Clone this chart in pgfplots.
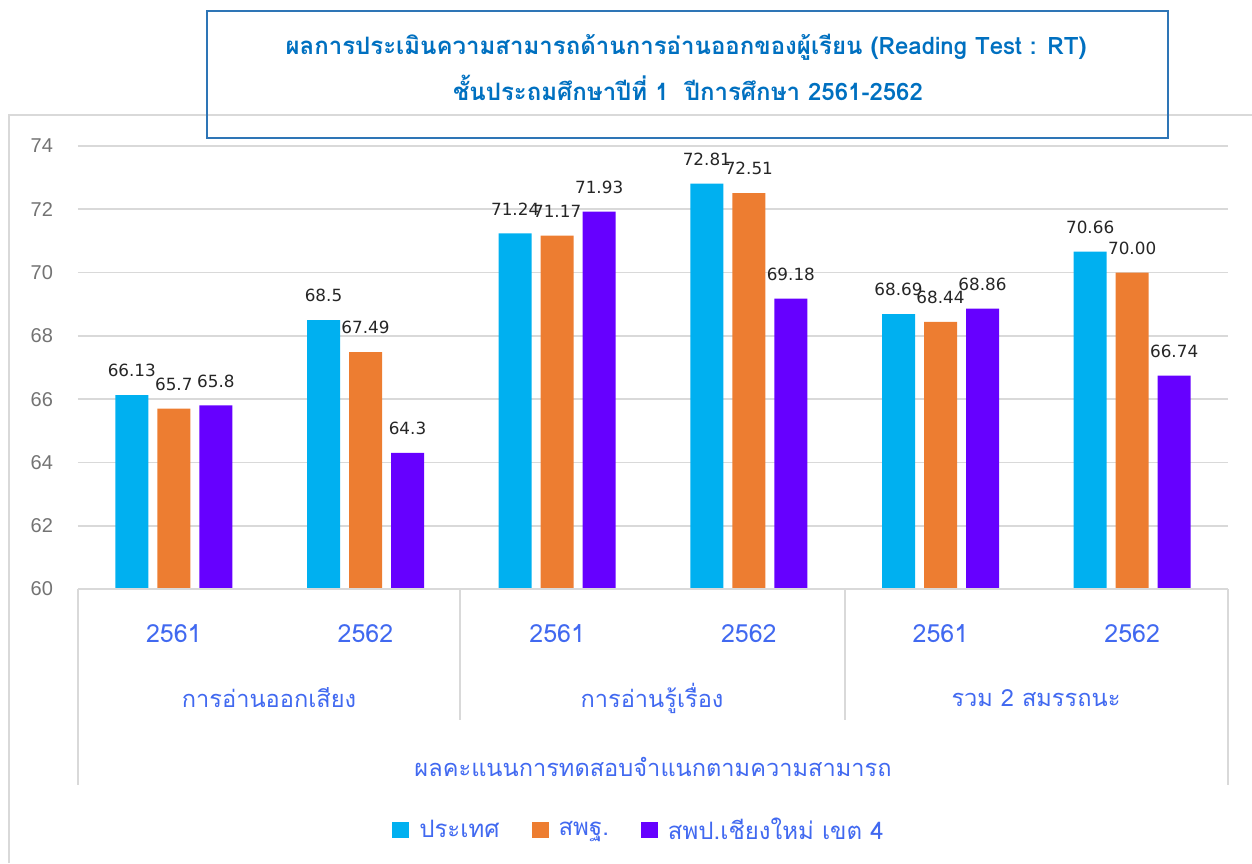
\documentclass[border=0pt]{standalone}
\usepackage{pgfplots}
\pgfplotsset{compat=1.18}
\usepackage{fontspec}
\setmainfont[Script=Thai]{Loma}
\newfontfamily\numfont{DejaVu Sans}
\newfontfamily\tickfont{Liberation Sans}
\definecolor{cA}{HTML}{00B0F0}
\definecolor{cB}{HTML}{ED7D31}
\definecolor{cC}{HTML}{6600FF}
\definecolor{lab}{HTML}{4169F0}
\definecolor{ttl}{HTML}{0070C0}
\definecolor{boxc}{HTML}{2E75B6}
\definecolor{gridc}{HTML}{D9D9D9}
\begin{document}
\begin{tikzpicture}
\begin{scope}[x=0.5pt,y=-0.5pt]
\useasboundingbox (0,0) rectangle (1252,863);
\draw[gridc, line width=1pt] (9,863) -- (9,115) -- (1252,115);
\end{scope}
\begin{axis}[
  at={(39pt,-294.5pt)}, anchor=south west,
  scale only axis, width=575pt, height=221.5pt,
  ybar=4.5pt, bar width=16.5pt,
  xmin=-0.5, xmax=5.5, ymin=60, ymax=74,
  ytick={60,62,...,74},
  xtick={0,1,2,3,4,5},
  xticklabels={2561,2562,2561,2562,2561,2562},
  ymajorgrids, grid style={gridc, line width=0.9pt},
  axis line style={draw=none}, major tick length=0pt,
  /pgf/number format/assume math mode=true,
  yticklabel style={font=\tickfont\fontsize{10}{12}\selectfont, text=black!55, xshift=-9pt},
  xticklabel style={font=\fontsize{12.5}{15}\selectfont, text=lab, anchor=center, yshift=-22.5pt},
  nodes near coords, point meta=explicit symbolic,
  every node near coord/.append style={font=\numfont\fontsize{8.4}{9}\selectfont, text=black!85, yshift=5.5pt},
  legend columns=3,
  legend style={at={(0.4887,-0.544)}, anchor=center, draw=none, fill=none,
    font=\fontsize{12}{14}\selectfont, text=lab,
    /tikz/every odd column/.append style={column sep=3pt},
    /tikz/every even column/.append style={column sep=14pt}},
  legend image code/.code={\fill[#1] (0pt,-4.2pt) rectangle (8.5pt,4.2pt);},
]
\addplot[fill=cA, draw=none] table[x=x,y=y,meta=l] {
x y l
0 66.13 66.13
1 68.5 68.5
2 71.24 71.24
3 72.81 72.81
4 68.69 68.69
5 70.66 70.66
};
\addplot[fill=cB, draw=none] table[x=x,y=y,meta=l] {
x y l
0 65.7 65.7
1 67.49 67.49
2 71.17 71.17
3 72.51 72.51
4 68.44 68.44
5 70.00 70.00
};
\addplot[fill=cC, draw=none] table[x=x,y=y,meta=l] {
x y l
0 65.8 65.8
1 64.3 64.3
2 71.93 71.93
3 69.18 69.18
4 68.86 68.86
5 66.74 66.74
};
\legend{ประเทศ, สพฐ., สพป.เชียงใหม่ เขต 4}
\end{axis}
\begin{scope}[x=0.5pt,y=-0.5pt]
\draw[gridc, line width=0.9pt] (78,589) -- (1228,589);
\draw[gridc, line width=0.9pt] (460,589) -- (460,720);
\draw[gridc, line width=0.9pt] (845,589) -- (845,720);
\draw[gridc, line width=0.9pt] (78,589) -- (78,785);
\draw[gridc, line width=0.9pt] (1228,589) -- (1228,785);
\node[text=lab, font=\fontsize{11.8}{14}\selectfont] at (269,698) {การอ่านออกเสียง};
\node[text=lab, font=\fontsize{11.8}{14}\selectfont] at (652,698) {การอ่านรู้เรื่อง};
\node[text=lab, font=\fontsize{11.8}{14}\selectfont] at (1036,698) {รวม 2 สมรรถนะ};
\node[text=lab, font=\fontsize{11.8}{14}\selectfont] at (653,767) {ผลคะแนนการทดสอบจำแนกตามความสามารถ};
\draw[boxc, line width=1pt] (207,11) rectangle (1168,138);
\node[text=ttl, font=\bfseries\fontsize{12}{14}\selectfont] at (686,47) {ผลการประเมินความสามารถด้านการอ่านออกของผู้เรียน (Reading Test : RT)};
\node[text=ttl, font=\bfseries\fontsize{12}{14}\selectfont] at (688,88) {ชั้นประถมศึกษาปีที่ 1~~ปีการศึกษา 2561-2562};
\end{scope}
\end{tikzpicture}
\end{document}
